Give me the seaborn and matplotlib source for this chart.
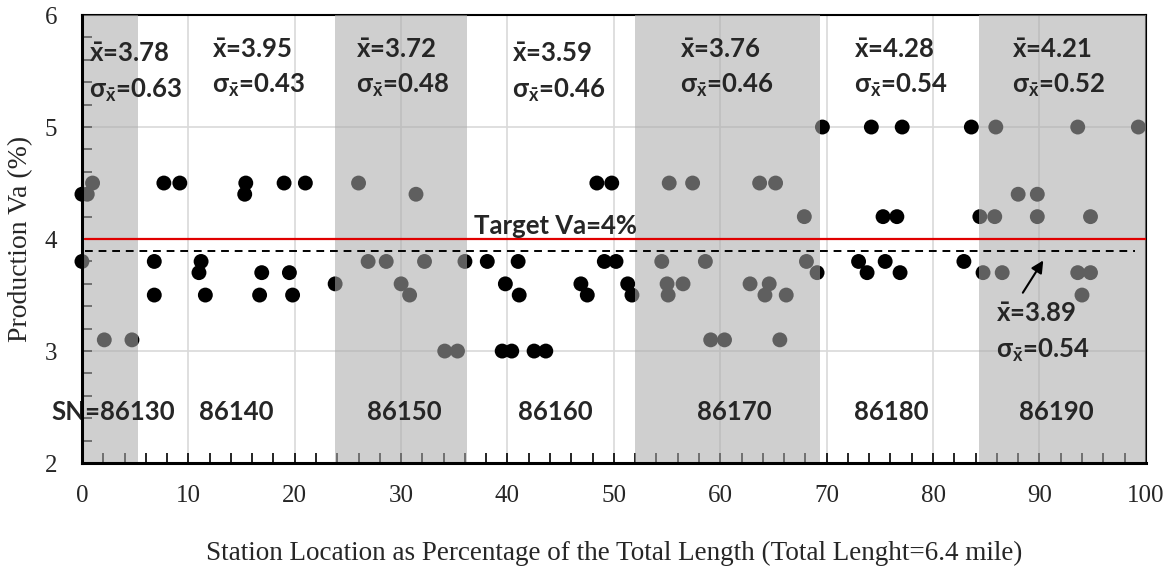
import matplotlib
matplotlib.use("Agg")
import matplotlib.pyplot as plt
from matplotlib.ticker import MultipleLocator
import seaborn as sns
import pandas as pd

# station location (% of total length) and production Va (%)
location = [0.0, 0.0, 0.5, 1.0, 2.1, 4.7, 6.8, 6.8, 7.7, 9.2, 11.0, 11.2, 11.6,
            15.3, 15.4, 16.7, 16.9, 19.0, 19.5, 19.8, 21.0, 23.8, 26.0, 26.9,
            28.6, 30.0, 30.8, 31.4, 32.2, 34.1, 35.3, 36.0, 38.1, 39.5, 39.8,
            40.4, 41.0, 41.1, 42.5, 43.6, 46.9, 47.5, 48.4, 49.1, 49.8, 50.2,
            51.3, 51.7, 54.5, 55.0, 55.1, 55.2, 56.5, 57.4, 58.6, 59.1, 60.4,
            62.8, 63.7, 64.2, 64.6, 65.2, 65.6, 66.2, 67.9, 68.1, 69.1, 69.6,
            73.0, 73.8, 74.2, 75.3, 75.5, 76.6, 76.9, 77.1, 82.9, 83.6, 84.4,
            84.7, 85.8, 85.9, 86.5, 88.0, 89.8, 89.8, 93.6, 93.6, 94.0, 94.8,
            94.8, 99.3]
va = [3.8, 4.4, 4.4, 4.5, 3.1, 3.1, 3.8, 3.5, 4.5, 4.5, 3.7, 3.8, 3.5,
      4.4, 4.5, 3.5, 3.7, 4.5, 3.7, 3.5, 4.5, 3.6, 4.5, 3.8,
      3.8, 3.6, 3.5, 4.4, 3.8, 3.0, 3.0, 3.8, 3.8, 3.0, 3.6,
      3.0, 3.8, 3.5, 3.0, 3.0, 3.6, 3.5, 4.5, 3.8, 4.5, 3.8,
      3.6, 3.5, 3.8, 3.6, 3.5, 4.5, 3.6, 4.5, 3.8, 3.1, 3.1,
      3.6, 4.5, 3.5, 3.6, 4.5, 3.1, 3.5, 4.2, 3.8, 3.7, 5.0,
      3.8, 3.7, 5.0, 4.2, 3.8, 4.2, 3.7, 5.0, 3.8, 5.0, 4.2,
      3.7, 4.2, 5.0, 3.7, 4.4, 4.4, 4.2, 5.0, 3.7, 3.5, 3.7,
      4.2, 5.0]

# shaded sections (start, end) in %
bands = [(0, 5.3), (23.8, 36.2), (52.0, 69.4), (84.3, 100)]

stations = ["SN=86130", "86140", "86150", "86160", "86170", "86180", "86190"]
means = ["3.78", "3.95", "3.72", "3.59", "3.76", "4.28", "4.21"]
sds = ["0.63", "0.43", "0.48", "0.46", "0.46", "0.54", "0.52"]
target_va = 4.0
overall_mean = 3.89
overall_sd = 0.54

# label positions
stat_x = [0.7, 12.2, 25.75, 40.4, 56.2, 72.6, 87.4]
stat_y = [5.65, 5.69, 5.69, 5.65, 5.69, 5.69, 5.69]
station_x = [-2.9, 11.0, 26.8, 41.0, 57.8, 72.6, 88.1]

df = pd.DataFrame({"location": location, "va": va})

sns.set_theme(style="white")
plt.rcParams["font.family"] = ["Liberation Serif", "DejaVu Serif"]
plt.rcParams["mathtext.fontset"] = "custom"
plt.rcParams["mathtext.rm"] = "Lato:bold"
plt.rcParams["mathtext.it"] = "Lato:bold"
plt.rcParams["mathtext.bf"] = "Lato:bold"

fig, ax = plt.subplots(figsize=(11.74, 5.71), dpi=100)
fig.subplots_adjust(left=0.0698, right=0.976, top=0.9737, bottom=0.189)

sns.scatterplot(data=df, x="location", y="va", ax=ax, color="black", s=115,
                edgecolor="none", linewidth=0, zorder=3, clip_on=False)

for x0, x1 in bands:
    ax.axvspan(x0, x1, color="#ababab", alpha=0.56, lw=0, zorder=4)

ax.axhline(target_va, xmin=0.003, xmax=1, color="#e00000", lw=1.6, zorder=5)
ax.axhline(overall_mean, xmin=0.003, xmax=0.99, color="black", lw=1.4,
           ls=(0, (4, 3)), zorder=5)

bold = dict(fontfamily="Lato", fontweight="bold", fontsize=18.5, zorder=6)
for xs, ys, m, s in zip(stat_x, stat_y, means, sds):
    ax.text(xs, ys, r"$\bar{\mathrm{x}}$=" + m, ha="left", va="center", **bold)
    ax.text(xs, ys - 0.32, r"σ$_{\bar{\mathrm{x}}}$=" + s, ha="left", va="center", **bold)
for xs, name in zip(station_x, stations):
    ax.text(xs, 2.46, name, ha="left", va="center", **bold)

ax.text(44.5, 4.12, f"Target Va={target_va:.0f}%", ha="center", va="center", **bold)
ax.text(85.9, 3.33, r"$\bar{\mathrm{x}}$=" + f"{overall_mean:.2f}", ha="left", va="center", **bold)
ax.text(85.9, 3.01, r"σ$_{\bar{\mathrm{x}}}$=" + f"{overall_sd:.2f}", ha="left", va="center", **bold)
ax.annotate("", xy=(90.5, 3.83), xytext=(88.3, 3.5),
            arrowprops=dict(arrowstyle="-|>", color="black", lw=1.5, mutation_scale=18),
            zorder=6)

ax.set_xlim(0, 100)
ax.set_ylim(2, 6)
ax.xaxis.set_major_locator(MultipleLocator(10))
ax.xaxis.set_minor_locator(MultipleLocator(2))
ax.yaxis.set_major_locator(MultipleLocator(1))
ax.yaxis.set_minor_locator(MultipleLocator(0.2))
ax.grid(True, which="major", color="#d9d9d9", lw=1.2, zorder=0)
ax.set_axisbelow(True)
ax.tick_params(axis="both", which="both", direction="in", length=7, width=1.2,
               color="black", labelsize=18)
ax.tick_params(axis="x", which="both", pad=16, bottom=True)
ax.tick_params(axis="y", which="both", pad=18, left=True)
for side in ["top", "right"]:
    ax.spines[side].set_color("black")
    ax.spines[side].set_linewidth(1.5)
for side in ["left", "bottom"]:
    ax.spines[side].set_color("black")
    ax.spines[side].set_linewidth(2.2)
    ax.spines[side].set_zorder(7)

ax.set_xlabel("Station Location as Percentage of the Total Length (Total Lenght=6.4 mile)",
              fontsize=19.5, labelpad=24)
ax.set_ylabel("Production Va (%)", fontsize=20, labelpad=8)

fig.savefig("out.png", dpi=100)
